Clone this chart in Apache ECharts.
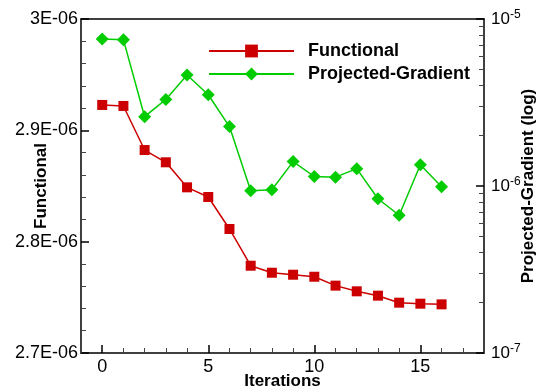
<!DOCTYPE html>
<html>
<head>
<meta charset="utf-8">
<script src="https://cdn.jsdelivr.net/npm/echarts@6/dist/echarts.min.js"></script>
<style>html,body{margin:0;padding:0;background:#fff;}#c{width:547px;height:390px;}</style>
</head>
<body>
<div id="c"></div>
<script>
const iterations = [0,1,2,3,4,5,6,7,8,9,10,11,12,13,14,15,16];
const functional = [2.9228e-6, 2.9219e-6, 2.8823e-6, 2.8713e-6, 2.8488e-6, 2.8401e-6, 2.8114e-6, 2.7784e-6, 2.7721e-6, 2.7703e-6, 2.7685e-6, 2.7605e-6, 2.7554e-6, 2.7515e-6, 2.7452e-6, 2.7443e-6, 2.7437e-6];
const projGradient = [7.59e-6, 7.52e-6, 2.60e-6, 3.30e-6, 4.62e-6, 3.52e-6, 2.27e-6, 9.37e-7, 9.5e-7, 1.40e-6, 1.14e-6, 1.13e-6, 1.27e-6, 8.39e-7, 6.68e-7, 1.34e-6, 9.9e-7];
const xTicks = [0, 5, 10, 15];
const xMinorTicks = [-1,1,2,3,4,6,7,8,9,11,12,13,14,16,17,18];
const leftTicks = [2.7e-6, 2.8e-6, 2.9e-6, 3.0e-6];
const leftTickLabels = ['2.7E-06', '2.8E-06', '2.9E-06', '3E-06'];
const leftMinorTicks = [2.72e-6,2.74e-6,2.76e-6,2.78e-6,2.82e-6,2.84e-6,2.86e-6,2.88e-6,2.92e-6,2.94e-6,2.96e-6,2.98e-6];
const rightTicks = [1e-7, 1e-6, 1e-5];
const rightMinorTicks = [2e-7,3e-7,4e-7,5e-7,6e-7,7e-7,8e-7,9e-7,2e-6,3e-6,4e-6,5e-6,6e-6,7e-6,8e-6,9e-6];

const FONT = 'Liberation Sans, Arial, Helvetica, sans-serif';
const RED = '#cc0000', GREEN = '#00cc00';

const chart = echarts.init(document.getElementById('c'), null, {renderer: 'canvas'});
const nameStyle = {fontFamily: FONT, fontSize: 17, fontWeight: 'bold', color: '#000'};
const blackLine = {show: true, onZero: false, lineStyle: {color: '#000', width: 1.5}};
chart.setOption({
  animation: false,
  backgroundColor: '#fff',
  grid: {left: 81, right: 63, top: 19, bottom: 37, outerBoundsMode: 'none', containLabel: false},
  legend: {
    orient: 'vertical', left: 208, top: 41, padding: 0,
    itemWidth: 85, itemHeight: 16, itemGap: 3,
    textStyle: {fontFamily: FONT, fontSize: 18, fontWeight: 'bold', color: '#000', padding: [0,0,0,9], lineHeight: 20},
    data: ['Functional', 'Projected-Gradient']
  },
  xAxis: [
    {
      type: 'value', min: -1, max: 18, position: 'bottom',
      name: 'Iterations', nameLocation: 'middle', nameGap: 20, nameMoveOverlap: false, nameTextStyle: nameStyle,
      axisLine: blackLine,
      axisTick: {show: true, inside: true, length: 8, customValues: xTicks, lineStyle: {color: '#000', width: 1.5}},
      axisLabel: {show: true, customValues: xTicks, margin: 5, fontFamily: FONT, fontSize: 18, color: '#000'},
      splitLine: {show: false}
    },
    {
      type: 'value', min: -1, max: 18, position: 'bottom',
      axisLine: {show: false, onZero: false},
      axisTick: {show: true, inside: true, length: 5, customValues: xMinorTicks, lineStyle: {color: '#444', width: 1}},
      axisLabel: {show: false},
      splitLine: {show: false}
    },
    {
      type: 'value', min: -1, max: 18, position: 'top',
      axisLine: blackLine,
      axisTick: {show: false},
      axisLabel: {show: false},
      splitLine: {show: false}
    }
  ],
  yAxis: [
    {
      type: 'value', min: 2.7e-6, max: 3.0e-6, position: 'left',
      name: 'Functional', nameLocation: 'middle', nameGap: 31, nameRotate: 90, nameMoveOverlap: false, nameTextStyle: nameStyle,
      axisLine: blackLine,
      axisTick: {show: true, inside: true, length: 8, customValues: leftTicks, lineStyle: {color: '#000', width: 1.5}},
      axisLabel: {
        show: true, customValues: leftTicks, margin: 3, fontFamily: FONT, fontSize: 18, color: '#000',
        formatter: function (v) {
          let best = 0, d = Infinity;
          leftTicks.forEach(function (t, i) { const dd = Math.abs(t - v); if (dd < d) { d = dd; best = i; } });
          return leftTickLabels[best];
        }
      },
      splitLine: {show: false}
    },
    {
      type: 'log', logBase: 10, min: 1e-7, max: 1e-5, position: 'right',
      name: 'Projected-Gradient (log)', nameLocation: 'middle', nameGap: 36, nameRotate: 90, nameMoveOverlap: false, nameTextStyle: nameStyle,
      axisLine: blackLine,
      axisTick: {show: true, inside: true, length: 8, customValues: rightTicks, lineStyle: {color: '#000', width: 1.5}},
      axisLabel: {
        show: true, customValues: rightTicks, margin: 7,
        formatter: function (v) { return '{b|10}{s|' + Math.round(Math.log10(v)) + '}'; },
        rich: {
          b: {fontFamily: FONT, fontSize: 17, color: '#000'},
          s: {fontFamily: FONT, fontSize: 12, color: '#000', verticalAlign: 'top', padding: [0,0,8,0]}
        }
      },
      splitLine: {show: false}
    },
    {
      type: 'value', min: 2.7e-6, max: 3.0e-6, position: 'left',
      axisLine: {show: false, onZero: false},
      axisTick: {show: true, inside: true, length: 5, customValues: leftMinorTicks, lineStyle: {color: '#444', width: 1}},
      axisLabel: {show: false},
      splitLine: {show: false}
    },
    {
      type: 'log', logBase: 10, min: 1e-7, max: 1e-5, position: 'right',
      axisLine: {show: false, onZero: false},
      axisTick: {show: true, inside: true, length: 5, customValues: rightMinorTicks, lineStyle: {color: '#444', width: 1}},
      axisLabel: {show: false},
      splitLine: {show: false}
    }
  ],
  series: [
    {
      name: 'Functional', type: 'line', xAxisIndex: 0, yAxisIndex: 0,
      data: iterations.map(function (x, i) { return [x, functional[i]]; }),
      symbol: 'rect', symbolSize: 10, showAllSymbol: true,
      itemStyle: {color: RED}, lineStyle: {color: RED, width: 1.5}
    },
    {
      name: 'Projected-Gradient', type: 'line', xAxisIndex: 0, yAxisIndex: 1,
      data: iterations.map(function (x, i) { return [x, projGradient[i]]; }),
      symbol: 'diamond', symbolSize: 13, showAllSymbol: true,
      itemStyle: {color: GREEN}, lineStyle: {color: GREEN, width: 1.5}
    }
  ]
});
</script>
</body>
</html>
